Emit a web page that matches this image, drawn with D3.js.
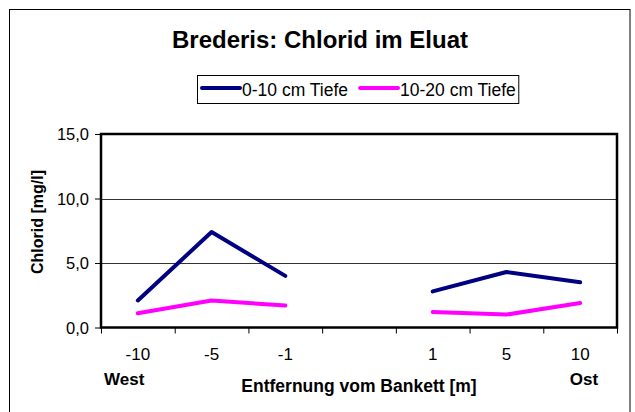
<!DOCTYPE html>
<html>
<head>
<meta charset="utf-8">
<script src="https://cdn.jsdelivr.net/npm/d3@7"></script>
<style>
  body { margin: 0; background: #fff; }
  text { font-family: Arial, "Liberation Sans", sans-serif; fill: #000; }
</style>
</head>
<body>
<div id="chart"></div>
<script>
// data
const categories = ['-10', '-5', '-1', '', '1', '5', '10'];
const tiefe0_10 = [2.1, 7.4, 4.0, null, 2.8, 4.3, 3.5];
const tiefe10_20 = [1.1, 2.1, 1.7, null, 1.2, 1.0, 1.9];
const seriesNames = ['0-10 cm Tiefe', '10-20 cm Tiefe'];
const seriesColors = ['#000080', '#ff00ff'];
const yTicks = [0, 5, 10, 15];

const width = 635, height = 412;
const plot = { left: 101, right: 617, top: 134, bottom: 327.5 };

const de = d3.formatLocale({ decimal: ',', thousands: '.', grouping: [3], currency: ['', '€'] });
const fmt = de.format('.1f');

const svg = d3.select('#chart').append('svg')
    .attr('width', width)
    .attr('height', height);

// outer frame
svg.append('rect')
    .attr('x', 9.5).attr('y', 9.5)
    .attr('width', 620.5).attr('height', 420)
    .attr('fill', 'none')
    .attr('stroke', '#000')
    .attr('stroke-width', 1);

// title
svg.append('text')
    .attr('x', 320).attr('y', 47.5)
    .attr('text-anchor', 'middle')
    .style('font-size', '24px')
    .style('font-weight', 'bold')
    .text('Brederis: Chlorid im Eluat');

// scales
const x = d3.scaleBand()
    .domain(d3.range(categories.length))
    .range([plot.left, plot.right])
    .padding(0);

const xEdge = d3.scaleLinear()
    .domain([0, categories.length])
    .range([plot.left, plot.right]);

const y = d3.scaleLinear()
    .domain([0, 15])
    .range([plot.bottom, plot.top]);

// gridlines
svg.append('g')
    .selectAll('line')
    .data(yTicks.filter(d => d > 0 && d < 15))
    .join('line')
    .attr('x1', plot.left).attr('x2', plot.right)
    .attr('y1', d => Math.round(y(d)) + 0.5)
    .attr('y2', d => Math.round(y(d)) + 0.5)
    .attr('stroke', '#333')
    .attr('stroke-width', 1);

// y axis
const yAxis = svg.append('g')
    .attr('transform', `translate(${plot.left},0)`)
    .call(d3.axisLeft(y).tickValues(yTicks).tickFormat(fmt).tickSize(6).tickPadding(6))
    .call(g => g.select('.domain').remove());
yAxis.selectAll('text')
    .style('font-size', '16.5px')
    .style('font-family', 'Arial, "Liberation Sans", sans-serif')
    .attr('dy', '0.36em');
yAxis.selectAll('line').attr('stroke', '#000');

// x axis: ticks on category edges
const xTickAxis = svg.append('g')
    .attr('transform', `translate(0,${plot.bottom})`)
    .call(d3.axisBottom(xEdge).tickValues(d3.range(categories.length + 1)).tickFormat('').tickSize(6))
    .call(g => g.select('.domain').remove());
xTickAxis.selectAll('line').attr('stroke', '#000');

// x axis: labels at category centres
const xLabelAxis = svg.append('g')
    .attr('transform', `translate(0,${plot.bottom})`)
    .call(d3.axisBottom(x).tickFormat(i => categories[i]).tickSize(0).tickPadding(20))
    .call(g => g.select('.domain').remove());
xLabelAxis.selectAll('text')
    .style('font-size', '17px')
    .style('font-family', 'Arial, "Liberation Sans", sans-serif');

// plot border
svg.append('rect')
    .attr('x', plot.left).attr('y', plot.top)
    .attr('width', plot.right - plot.left)
    .attr('height', plot.bottom - plot.top)
    .attr('fill', 'none')
    .attr('stroke', '#000')
    .attr('stroke-width', 2.5);

// lines
const line = d3.line()
    .defined(d => d != null)
    .x((d, i) => x(i) + x.bandwidth() / 2)
    .y(d => y(d));

svg.append('g')
    .selectAll('path')
    .data([tiefe0_10, tiefe10_20])
    .join('path')
    .attr('d', line)
    .attr('fill', 'none')
    .attr('stroke', (d, i) => seriesColors[i])
    .attr('stroke-width', 4)
    .attr('stroke-linejoin', 'round')
    .attr('stroke-linecap', 'round');

// axis titles
svg.append('text')
    .attr('transform', 'translate(43,222) rotate(-90)')
    .attr('text-anchor', 'middle')
    .style('font-size', '16px')
    .style('font-weight', 'bold')
    .text('Chlorid  [mg/l]');

svg.append('text')
    .attr('x', 359).attr('y', 392)
    .attr('text-anchor', 'middle')
    .style('font-size', '17.5px')
    .style('font-weight', 'bold')
    .text('Entfernung vom Bankett [m]');

svg.append('text')
    .attr('x', 104).attr('y', 385)
    .style('font-size', '17px')
    .style('font-weight', 'bold')
    .text('West');

svg.append('text')
    .attr('x', 584).attr('y', 385)
    .attr('text-anchor', 'middle')
    .style('font-size', '17px')
    .style('font-weight', 'bold')
    .text('Ost');

// legend
const legend = svg.append('g');
const legendBox = legend.append('rect')
    .attr('x', 197.5).attr('y', 75.5)
    .attr('height', 28)
    .attr('fill', '#fff')
    .attr('stroke', '#000')
    .attr('stroke-width', 1);

let lx = 202;
seriesNames.forEach((name, i) => {
    legend.append('line')
        .attr('x1', lx).attr('x2', lx + 38)
        .attr('y1', 88).attr('y2', 88)
        .attr('stroke', seriesColors[i])
        .attr('stroke-width', 4)
        .attr('stroke-linecap', 'round');
    const t = legend.append('text')
        .attr('x', lx + 40).attr('y', 95.5)
        .style('font-size', '17.5px')
        .text(name);
    lx = lx + 40 + t.node().getComputedTextLength() + 12;
});
legendBox.attr('width', lx - 12 + 3 - 197.5);
</script>
</body>
</html>
